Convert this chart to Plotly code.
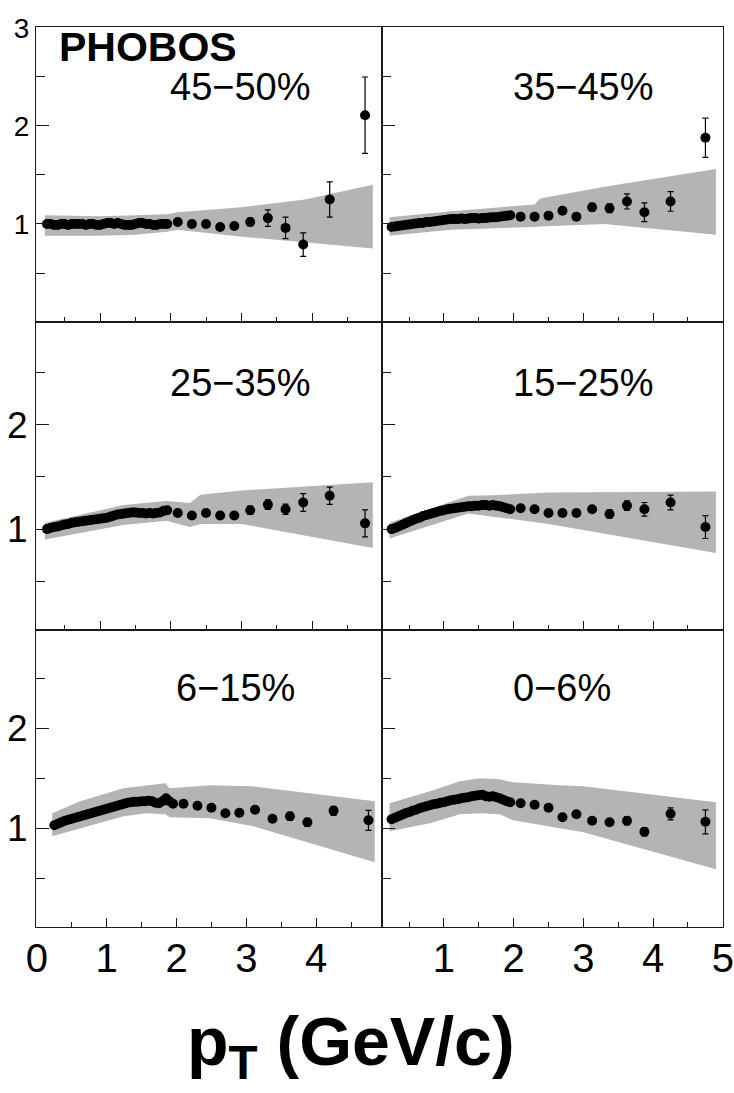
import plotly.graph_objects as go
from plotly.subplots import make_subplots

# ---------------------------------------------------------------
# Transverse-momentum bins (GeV/c)
# ---------------------------------------------------------------
pt_low = [0.25, 0.30, 0.35, 0.40, 0.45, 0.50, 0.55, 0.60, 0.65, 0.70,
          0.75, 0.80, 0.85, 0.90, 0.95, 1.00, 1.05, 1.10, 1.15, 1.20,
          1.25, 1.30, 1.35, 1.40, 1.45, 1.50, 1.55, 1.60, 1.65, 1.70,
          1.75, 1.80, 1.85, 1.90, 1.95]
pt_high = [2.1, 2.3, 2.5, 2.7, 2.9, 3.125, 3.375, 3.625, 3.875, 4.25, 4.75]

centralities = ["45−50%", "35−45%", "25−35%", "15−25%", "6−15%", "0−6%"]

# ---------------------------------------------------------------
# Ratio values, low-pT region (one per pt_low bin)
# ---------------------------------------------------------------
ratio_low_45_50 = [1.00, 1.00, 0.99, 0.99, 1.00, 1.00, 0.99, 1.00, 1.00, 1.00,
                   1.00, 0.99, 1.00, 1.00, 0.99, 0.99, 1.00, 1.01, 1.01, 1.00,
                   1.01, 1.00, 0.99, 0.99, 0.99, 1.00, 1.01, 1.01, 1.00, 1.00,
                   0.99, 0.99, 1.00, 1.00, 1.00]
ratio_low_35_45 = [0.97, 0.975, 0.98, 0.985, 0.99, 0.995, 1.00, 1.005, 1.01, 1.01,
                   1.02, 1.02, 1.025, 1.03, 1.035, 1.04, 1.045, 1.05, 1.05, 1.05,
                   1.055, 1.05, 1.055, 1.06, 1.06, 1.055, 1.06, 1.06, 1.065, 1.07,
                   1.07, 1.075, 1.08, 1.085, 1.09]
ratio_low_25_35 = [1.00, 1.01, 1.02, 1.025, 1.035, 1.045, 1.05, 1.06, 1.065, 1.07,
                   1.075, 1.08, 1.085, 1.09, 1.095, 1.10, 1.105, 1.11, 1.12, 1.13,
                   1.14, 1.145, 1.15, 1.155, 1.16, 1.16, 1.155, 1.155, 1.15, 1.155,
                   1.15, 1.155, 1.16, 1.175, 1.18]
ratio_low_15_25 = [1.00, 1.01, 1.025, 1.04, 1.055, 1.07, 1.085, 1.10, 1.11, 1.125,
                   1.135, 1.145, 1.155, 1.165, 1.175, 1.18, 1.19, 1.195, 1.20, 1.205,
                   1.21, 1.215, 1.22, 1.22, 1.225, 1.225, 1.23, 1.23, 1.225, 1.23,
                   1.225, 1.22, 1.21, 1.20, 1.19]
ratio_low_6_15 = [1.03, 1.045, 1.06, 1.075, 1.085, 1.095, 1.105, 1.115, 1.125, 1.135,
                  1.145, 1.155, 1.165, 1.175, 1.185, 1.195, 1.205, 1.215, 1.225, 1.235,
                  1.245, 1.255, 1.26, 1.265, 1.265, 1.27, 1.27, 1.275, 1.27, 1.255,
                  1.25, 1.27, 1.30, 1.27, 1.245]
ratio_low_0_6 = [1.09, 1.105, 1.12, 1.135, 1.15, 1.16, 1.175, 1.185, 1.20, 1.21,
                 1.22, 1.23, 1.24, 1.245, 1.255, 1.26, 1.27, 1.28, 1.285, 1.29,
                 1.30, 1.305, 1.31, 1.32, 1.325, 1.33, 1.335, 1.32, 1.315, 1.32,
                 1.31, 1.30, 1.285, 1.27, 1.26]

# ---------------------------------------------------------------
# Ratio values and statistical errors, high-pT region (pt_high bins)
# ---------------------------------------------------------------
ratio_high_45_50 = [1.02, 1.00, 1.00, 0.97, 0.98, 1.02, 1.06, 0.96, 0.79, 1.25, 2.11]
err_high_45_50 = [0.02, 0.02, 0.02, 0.03, 0.03, 0.04, 0.085, 0.11, 0.12, 0.18, 0.39]

ratio_high_35_45 = [1.075, 1.075, 1.085, 1.135, 1.075, 1.17, 1.16, 1.23, 1.12, 1.23, 1.88]
err_high_35_45 = [0.02, 0.02, 0.02, 0.03, 0.03, 0.04, 0.045, 0.077, 0.095, 0.10, 0.20]

ratio_high_25_35 = [1.155, 1.13, 1.155, 1.13, 1.13, 1.18, 1.235, 1.19, 1.255, 1.32, 1.055]
err_high_25_35 = [0.02, 0.02, 0.02, 0.03, 0.03, 0.04, 0.045, 0.05, 0.086, 0.083, 0.13]

ratio_high_15_25 = [1.20, 1.19, 1.155, 1.155, 1.155, 1.19, 1.145, 1.225, 1.19, 1.255, 1.02]
err_high_15_25 = [0.02, 0.02, 0.02, 0.03, 0.03, 0.03, 0.04, 0.045, 0.065, 0.07, 0.11]

ratio_high_6_15 = [1.245, 1.225, 1.205, 1.15, 1.155, 1.185, 1.095, 1.12, 1.06, 1.175, 1.08]
err_high_6_15 = [0.02, 0.02, 0.02, 0.02, 0.03, 0.03, 0.03, 0.04, 0.04, 0.045, 0.10]

ratio_high_0_6 = [1.25, 1.235, 1.205, 1.11, 1.14, 1.075, 1.06, 1.075, 0.965, 1.145, 1.065]
err_high_0_6 = [0.02, 0.02, 0.02, 0.02, 0.03, 0.03, 0.03, 0.04, 0.04, 0.06, 0.12]

# ---------------------------------------------------------------
# Systematic-uncertainty bands (edges at knot positions)
# ---------------------------------------------------------------
band_x_45_50 = [0.22, 1.0, 1.5, 1.95, 2.1, 3.0, 3.9, 4.86]
band_lo_45_50 = [0.88, 0.88, 0.89, 0.92, 0.94, 0.87, 0.81, 0.75]
band_hi_45_50 = [1.09, 1.08, 1.09, 1.10, 1.12, 1.17, 1.25, 1.40]

band_x_35_45 = [0.22, 1.1, 2.3, 2.38, 3.3, 4.9]
band_lo_35_45 = [0.88, 0.94, 0.97, 0.975, 1.00, 0.89]
band_hi_35_45 = [1.07, 1.13, 1.20, 1.26, 1.38, 1.56]

band_x_25_35 = [0.22, 1.33, 1.94, 2.27, 2.42, 3.0, 4.86]
band_lo_25_35 = [0.90, 1.04, 1.08, 1.02, 1.05, 1.05, 0.82]
band_hi_25_35 = [1.06, 1.23, 1.27, 1.25, 1.33, 1.37, 1.45]

band_x_15_25 = [0.22, 1.35, 1.71, 2.5, 4.9]
band_lo_15_25 = [0.91, 1.15, 1.12, 1.05, 0.77]
band_hi_15_25 = [1.06, 1.32, 1.325, 1.35, 1.36]

band_x_6_15 = [0.22, 0.62, 1.24, 1.57, 1.84, 1.9, 2.48, 3.1, 4.84]
band_lo_6_15 = [0.92, 1.00, 1.12, 1.15, 1.14, 1.11, 1.10, 1.02, 0.66]
band_hi_6_15 = [1.15, 1.27, 1.40, 1.43, 1.45, 1.40, 1.43, 1.42, 1.27]

band_x_0_6 = [0.22, 0.8, 1.23, 1.52, 1.8, 1.99, 2.66, 3.0, 4.9]
band_lo_0_6 = [0.97, 1.05, 1.14, 1.15, 1.14, 1.08, 1.00, 0.96, 0.59]
band_hi_0_6 = [1.25, 1.37, 1.47, 1.50, 1.49, 1.46, 1.43, 1.42, 1.26]

panels = [
    (ratio_low_45_50, ratio_high_45_50, err_high_45_50, band_x_45_50, band_lo_45_50, band_hi_45_50),
    (ratio_low_35_45, ratio_high_35_45, err_high_35_45, band_x_35_45, band_lo_35_45, band_hi_35_45),
    (ratio_low_25_35, ratio_high_25_35, err_high_25_35, band_x_25_35, band_lo_25_35, band_hi_25_35),
    (ratio_low_15_25, ratio_high_15_25, err_high_15_25, band_x_15_25, band_lo_15_25, band_hi_15_25),
    (ratio_low_6_15, ratio_high_6_15, err_high_6_15, band_x_6_15, band_lo_6_15, band_hi_6_15),
    (ratio_low_0_6, ratio_high_0_6, err_high_0_6, band_x_0_6, band_lo_0_6, band_hi_0_6),
]

BAND = "#b4b4b4"
FRAME = "#1a1a1a"
FONT = "Liberation Sans, Arial, Helvetica, sans-serif"

fig = make_subplots(rows=3, cols=2, horizontal_spacing=0, vertical_spacing=0)

for i, (low, high, err, bx, blo, bhi) in enumerate(panels):
    row, col = i // 2 + 1, i % 2 + 1
    fig.add_trace(go.Scatter(
        x=bx + bx[::-1], y=bhi + blo[::-1], fill="toself", fillcolor=BAND,
        mode="lines", line=dict(width=0), hoverinfo="skip", showlegend=False),
        row=row, col=col)
    fig.add_trace(go.Scatter(
        x=pt_low, y=low, mode="markers",
        marker=dict(color="black", size=10, line=dict(width=0)),
        showlegend=False), row=row, col=col)
    fig.add_trace(go.Scatter(
        x=pt_high, y=high, mode="markers",
        marker=dict(color="black", size=10, line=dict(width=0)),
        error_y=dict(type="data", array=err, visible=True, color="black",
                     thickness=1.2, width=3),
        showlegend=False), row=row, col=col)

# Panel geometry (paper fractions of a 734 x 1093 canvas)
W, H = 734.0, 1093.0
x_dom = {1: [36 / W, 382 / W], 2: [382 / W, 723 / W]}
y_dom = {1: [1 - 322 / H, 1 - 27 / H],
         2: [1 - 630 / H, 1 - 322 / H],
         3: [1 - 927 / H, 1 - 630 / H]}
y_rng = {1: [0.0, 3.01], 2: [0.033, 2.985], 3: [0.013, 2.983]}
x_rng = {(1, 1): [0.094, 4.99], (2, 1): [0.094, 4.99], (3, 1): [-0.013, 4.944],
         (1, 2): [0.112, 5.002], (2, 2): [0.112, 5.002], (3, 2): [0.112, 5.002]}

common = dict(showline=True, mirror=True, linecolor=FRAME, linewidth=1.1,
              showgrid=False, zeroline=False, ticks="inside", tickcolor=FRAME,
              tickwidth=1.1, automargin=False,
              tickfont=dict(family=FONT, color="black"))

for i in range(6):
    row, col = i // 2 + 1, i % 2 + 1
    n = "" if i == 0 else str(i + 1)
    if row == 3:
        xt = [0, 1, 2, 3, 4] if col == 1 else [1, 2, 3, 4, 5]
        xshow = True
    else:
        xt = [1, 2, 3, 4]
        xshow = False
    xa = dict(common, domain=x_dom[col], range=x_rng[(row, col)],
              tickmode="array", tickvals=xt, ticktext=[str(v) for v in xt],
              showticklabels=xshow, ticklen=9, ticklabelstandoff=-4,
              minor=dict(tickmode="array", tickvals=[0.5, 1.5, 2.5, 3.5, 4.5],
                         ticks="inside", ticklen=5, tickcolor=FRAME, tickwidth=1.1))
    xa["tickfont"] = dict(family=FONT, color="black", size=40)
    if row == 1:
        yt = [1, 2, 3]
        ysize = 28
    else:
        yt = [1, 2]
        ysize = 37
    ya = dict(common, domain=y_dom[row], range=y_rng[row],
              tickmode="array", tickvals=yt, ticktext=[str(v) for v in yt],
              showticklabels=(col == 1), ticklen=13, ticklabelstandoff=0,
              minor=dict(tickmode="array", tickvals=[0.5, 1.5, 2.5],
                         ticks="inside", ticklen=9, tickcolor=FRAME, tickwidth=1.1))
    ya["tickfont"] = dict(family=FONT, color="black", size=ysize)
    fig.update_layout({"xaxis" + n: xa, "yaxis" + n: ya})

annotations = []
for i, label in enumerate(centralities):
    n = "" if i == 0 else str(i + 1)
    annotations.append(dict(
        x=1.96, y=2.4, xref="x" + n, yref="y" + n, text=label, showarrow=False,
        xanchor="left", yanchor="middle",
        font=dict(family=FONT, size=38, color="black")))

annotations.append(dict(
    x=57 / W, y=1 - 47.5 / H, xref="paper", yref="paper", text="<b>PHOBOS</b>",
    showarrow=False, xanchor="left", yanchor="middle",
    font=dict(family=FONT, size=41, color="black")))

annotations.append(dict(
    x=351 / W, y=1 - 1046 / H, xref="paper", yref="paper",
    text="<b>p<sub>T</sub> (GeV/c)</b>", showarrow=False,
    xanchor="center", yanchor="middle",
    font=dict(family=FONT, size=68, color="black")))

fig.update_layout(
    width=734, height=1093,
    margin=dict(l=0, r=0, t=0, b=0),
    paper_bgcolor="white", plot_bgcolor="white",
    showlegend=False,
    annotations=annotations,
)

fig.write_html("out.html")
